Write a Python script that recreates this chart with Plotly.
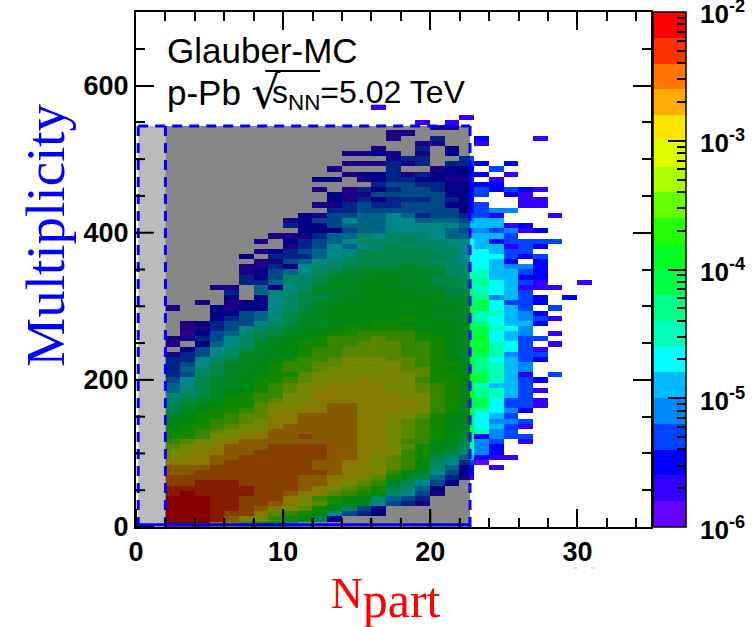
import math
import plotly.graph_objects as go

# One string per 7-unit multiplicity row, bottom row first; one character per unit-wide Npart bin from Npart = 2.
# Character = colour band on the 20-step palette (0 = lowest, j = highest), '.' = empty bin.
band_rows = [
 "jjjfecba6",
 "jjjigfecba82",
 "jjjihhfdcba6432",
 "jjjiihgfedba842",
 "jjjiihhgfedba96431",
 "jjjiihhhfecbaa7543",
 "ijiiiihhgffdcba7641",
 "iiiiiihhhgfedcb8752",
 "hhiiihhhhggfedc98642",
 "hhhhhhhhhggffedb98531",
 "gghhhhhhhhhgffeca9642",
 "ggghhhhhhhggfeedca752.1",
 "fffghhhhhhggffedca7630",
 "effgghhhhhhggfedcb875211",
 "eeffgghhhhhggfeecb98742",
 "deefggghhhhggffedba9742",
 "cdeefggggggggffecca9843.1",
 "bbceeffgghgggffedcba92433",
 "bbcdeefggggggffedcba9743",
 "abbcdeefgggggffedcba96531",
 "aabccdeffggggffedcba96443",
 "9abbcddffggggffeedbaa653",
 "89abbcdefffggfffeecb97642",
 "89aabbdeeffggffffecb996331",
 "789abbcdeefffffffecba96331",
 "6789abcceeffffffeecba8753",
 "5789aabcdefffffeedcba87531",
 "56899abcdeeffffeedcba7553",
 "46899abbcdeeefeeecbba97532",
 "347899abbdeeeeeeedbba9751.3",
 "35789aabccdeeeeeddbaa8754",
 "346899abccddeeeedcbb98754",
 "336789aabccdeeeddcba986532",
 "1346799aabccddddccba997433",
 ".246789aabccddddccba9a7631",
 "1.256799abbccdddccba99763.1",
 "11346789aabcccdccbba9a6533",
 ".02457889aabbccccbaa99654.1",
 ".113467899aabbbbbaaa99764",
 ".1234467899aaabbaaaa986552",
 "...23456899aaaaabaa99765431",
 "...22457899aaaaaaa99977542",
 "1..21226789aaaaaaaaa99653.3",
 "..1.12267899aaaaaa99996332",
 "....2.267889aaaaaaa9984532.2",
 "....3.5778999aaaa99887653",
 "...11.5267999aa999988765111",
 ".....33577899aaa9988886531..1",
 ".....324778999aa9988775522",
 ".....124567899999997775532",
 ".....113267788889887765442",
 "......114567788888776652.2",
 ".....2.3335678888887666323",
 "......1234566888887766533",
 "........134656787777655132",
 "......1.2345677787766523333",
 ".......11135576777655553",
 ".........22245566665443412",
 "........32245556666655512",
 "........124465566555455",
 ".........21445565344331...1",
 "...........3344444442344",
 "..........113433444223..11",
 "...........2132333432...11",
 "...........21144444223.21",
 "..........1.13234432232321",
 "..............344332222",
 "..........22.12332211.1",
 "............1223132222.1",
 "...........1...3..122.3",
 "............111313.332.2",
 "...............133..3",
 "............1121.1.2",
 "..............1..3.2",
 ".................11..1",
 "...............1..3..2...1",
 "...............11",
 "..................11",
 ".................1.1",
 "....................1",
 "",
 "..............1",
]
band_colors = ["#6600FF", "#3300FF", "#0000FF", "#0044FF", "#0088FF", "#00BBFF", "#00FFFF",
               "#00FFBB", "#00FF88", "#00FF44", "#00FF22", "#22FF00", "#66FF00", "#AAFF00",
               "#DDFF00", "#FFE600", "#FFAA00", "#FF7700", "#FF3300", "#FF0000"]
band_chars = "0123456789abcdefghij"
first_npart_bin = 2
n_npart_bins = 30
mult_bin_width = 7
n_bands = len(band_colors)
log_min, log_max = -6, -2
decades = [-6, -5, -4, -3, -2]
decade_labels = ["10<sup>-6</sup>", "10<sup>-5</sup>", "10<sup>-4</sup>", "10<sup>-3</sup>", "10<sup>-2</sup>"]

z = []
for row in band_rows:
    row = row.ljust(n_npart_bins, ".")
    z.append([None if c == "." else log_min + (band_chars.index(c) + 0.5) * (log_max - log_min) / n_bands for c in row])
x_centres = [first_npart_bin + i + 0.5 for i in range(n_npart_bins)]
y_centres = [mult_bin_width * (r + 0.5) for r in range(len(band_rows))]

colorscale = []
for i, c in enumerate(band_colors):
    colorscale += [[i / n_bands, c], [(i + 1) / n_bands, c]]

minor_vals = [d + math.log10(m) for d in decades[:-1] for m in range(2, 10)]
# the top tick has to sit a hair inside the colour-bar range or it is dropped
major_vals = [min(d, log_max - 0.001) for d in decades]

PLOT_L, PLOT_R, PLOT_T, PLOT_B = 135.5, 651.5, 12, 527
def fx(px):
    return (px - PLOT_L) / (PLOT_R - PLOT_L)
def fy(py):
    return (PLOT_B - py) / (PLOT_B - PLOT_T)

cb_common = dict(x=fx(654), xanchor="left", y=0.5, yanchor="middle", len=1, lenmode="fraction", ypad=0, xpad=0,
                 thickness=33, thicknessmode="pixels", borderwidth=0, ticks="inside", tickcolor="black", tickwidth=2,
                 showticklabels=False)

fig = go.Figure()
fig.add_trace(go.Heatmap(
    x=x_centres, y=y_centres, z=z, zmin=log_min, zmax=log_max, colorscale=colorscale,
    hoverongaps=False,
    colorbar=dict(outlinecolor="black", outlinewidth=1.5, tickmode="array", tickvals=major_vals, ticklen=18, **cb_common),
))
# transparent companion trace: only carries the short colour-bar ticks
fig.add_trace(go.Heatmap(
    x=[x_centres[0]], y=[y_centres[0]], z=[[log_min]], zmin=log_min, zmax=log_max,
    colorscale=[[0, "rgba(0,0,0,0)"], [1, "rgba(0,0,0,0)"]], hoverinfo="skip",
    colorbar=dict(outlinewidth=0, tickmode="array", tickvals=minor_vals, ticklen=9, **cb_common),
))

tick_font = dict(family="Liberation Sans", size=27, color="black", weight=700)
axis_common = dict(showgrid=False, zeroline=False, showline=True, linecolor="black", linewidth=2,
                   mirror="ticks", ticks="inside", ticklen=18, tickwidth=2, tickcolor="black",
                   tickfont=tick_font)
fig.update_xaxes(range=[0, 35], tickmode="linear", dtick=10, tick0=0,
                 minor=dict(tickmode="linear", dtick=2, tick0=0, ticks="inside", ticklen=9, tickwidth=2, tickcolor="black"),
                 **axis_common)
fig.update_yaxes(range=[0, 700], tickmode="linear", dtick=200, tick0=0,
                 minor=dict(tickmode="linear", dtick=50, tick0=0, ticks="inside", ticklen=9, tickwidth=2, tickcolor="black"),
                 **axis_common)

box_left, box_cut, box_right, box_top = 0.15, 2.0, 22.7, 545
shapes = [
    dict(type="rect", xref="x", yref="y", x0=box_left, x1=box_cut, y0=0, y1=box_top,
         fillcolor="#BBBBBB", line_width=0, layer="above"),
    dict(type="rect", xref="x", yref="y", x0=box_cut, x1=box_right, y0=0, y1=box_top,
         fillcolor="rgba(0,0,0,0.47)", line_width=0, layer="above"),
]
blue = dict(color="#0000FF", width=3, dash="10px,7px")
for x in (box_left, box_cut, box_right):
    shapes.append(dict(type="line", xref="x", yref="y", x0=x, x1=x, y0=0, y1=box_top, line=blue, layer="above"))
shapes.append(dict(type="line", xref="x", yref="y", x0=box_left, x1=box_right, y0=box_top, y1=box_top, line=blue, layer="above"))
shapes.append(dict(type="line", xref="x", yref="y", x0=box_left, x1=box_right, y0=3, y1=3,
                   line=dict(color="#0000FF", width=3), layer="above"))
# the ticks stay visible on top of the translucent box
tick_line = dict(color="black", width=2)
for v in range(0, 23, 2):
    n = 18 if v % 10 == 0 else 9
    shapes.append(dict(type="line", xref="x", yref="paper", x0=v, x1=v, y0=0, y1=n / 515, line=tick_line))
for v in range(0, 501, 50):
    n = 18 if v % 200 == 0 else 9
    shapes.append(dict(type="line", xref="paper", yref="y", x0=0, x1=n / 516, y0=v, y1=v, line=tick_line))
# vinculum of the square root
shapes.append(dict(type="line", xref="paper", yref="paper", x0=fx(265), x1=fx(320), y0=fy(71), y1=fy(71),
                   line=dict(color="black", width=2)))
# the two faint red remnants below the axis
for px in (574, 591):
    shapes.append(dict(type="line", xref="paper", yref="paper", x0=fx(px), x1=fx(px + 4), y0=fy(568), y1=fy(568),
                       line=dict(color="#FFB0A0", width=1)))

def label(text, px, py, font, xanchor="left", yanchor="middle", **kw):
    return dict(text=text, x=fx(px), y=fy(py), xref="paper", yref="paper", xanchor=xanchor, yanchor=yanchor,
                showarrow=False, font=font, **kw)

annotations = [
    label("Glauber-MC", 165, 51, dict(family="Liberation Sans", size=35, color="black")),
    label("p-Pb", 165, 92, dict(family="Liberation Sans", size=35, color="black")),
    label("√", 249, 92, dict(family="DejaVu Sans", size=46, color="black")),
    label("s<sub>NN</sub>=5.02 TeV", 270, 94, dict(family="Liberation Sans", size=32, color="black")),
    label("Multiplicity", 45, 235, dict(family="Liberation Serif", size=55, color="#0000FF"), xanchor="center", textangle=-90),
    label('N<sub><span style="font-size:50px">part</span></sub>', 329, 598, dict(family="Liberation Serif", size=44, color="#FF0000")),
    label("(", 352, 3, dict(family="Liberation Serif", size=30, color="#FF0000"), xanchor="center", yanchor="bottom"),
    label(")", 428, 3, dict(family="Liberation Serif", size=30, color="#FF0000"), xanchor="center", yanchor="bottom"),
]
# colour-bar labels sit slightly below their ticks in the reference
cb_font = dict(family="Liberation Sans", size=26, color="black", weight=700)
for d, lab in zip(decades, decade_labels):
    py = PLOT_B - (d - log_min) / (log_max - log_min) * (PLOT_B - PLOT_T)
    annotations.append(label(lab, 699, py + 1, cb_font))

fig.update_layout(width=752, height=627, autosize=False, paper_bgcolor="white", plot_bgcolor="white",
                  margin=dict(l=PLOT_L, r=752 - PLOT_R, t=PLOT_T, b=627 - PLOT_B, autoexpand=False),
                  shapes=shapes, annotations=annotations, showlegend=False)
fig.write_html("out.html", config={"displayModeBar": False},
               post_script="document.body.style.margin='0';document.documentElement.style.overflow='hidden';")
